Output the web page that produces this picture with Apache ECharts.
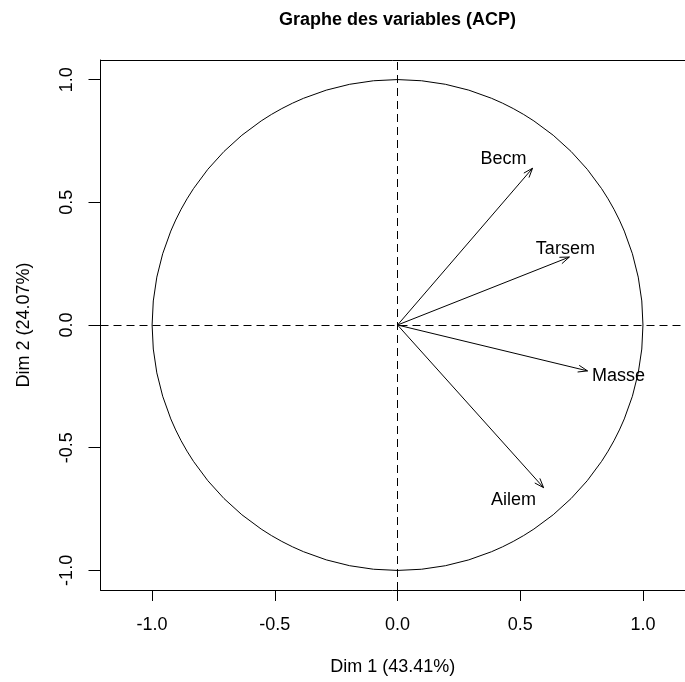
<!DOCTYPE html>
<html>
<head>
<meta charset="utf-8">
<script src="https://cdn.jsdelivr.net/npm/echarts@6/dist/echarts.min.js"></script>
<style>
html,body{margin:0;padding:0;background:#fff;}
#chart{width:685px;height:682px;}
</style>
</head>
<body>
<div id="chart"></div>
<script>
// ---- data ----
const variables = ['Becm', 'Tarsem', 'Masse', 'Ailem'];
const dim1 = [0.55, 0.70, 0.774, 0.595];
const dim2 = [0.639, 0.277, -0.187, -0.663];
const tickValues = [-1, -0.5, 0, 0.5, 1];
const xTitle = 'Dim 1 (43.41%)';
const yTitle = 'Dim 2 (24.07%)';
const chartTitle = 'Graphe des variables (ACP)';

// ---- layout (pixel offsets of variable labels from arrow tips) ----
const labelOffsets = [[-29, -9], [-4, -8], [31, 5], [-30, 12]];

const FONT = '"Liberation Sans", Arial, sans-serif';
const chart = echarts.init(document.getElementById('chart'));

const arrowData = variables.map((v, i) => [dim1[i], dim2[i]]);
const X_MIN = -1.21, X_MAX = 1.171;

chart.setOption({
  animation: false,
  backgroundColor: '#fff',
  graphic: [{
    type: 'text',
    x: 397.5, y: 20,
    style: {
      text: chartTitle, fill: '#000', fontFamily: FONT, fontSize: 18, fontWeight: 'bold',
      align: 'center', verticalAlign: 'middle'
    }
  }],
  grid: {
    left: 100.5, top: 60, bottom: 92, right: 0,
    show: false
  },
  xAxis: [{
    type: 'value', min: X_MIN, max: X_MAX,
    name: xTitle, nameLocation: 'middle', nameGap: 68,
    nameTextStyle: { color: '#000', fontFamily: FONT, fontSize: 18 },
    axisLine: { show: true, onZero: false, lineStyle: { color: '#000', width: 1 } },
    axisTick: { show: true, length: 11, customValues: tickValues, lineStyle: { color: '#000', width: 1 } },
    axisLabel: {
      customValues: tickValues, margin: 26, color: '#000', fontFamily: FONT, fontSize: 18,
      formatter: v => v.toFixed(1)
    },
    splitLine: { show: false }
  }, {
    type: 'value', min: X_MIN, max: X_MAX, position: 'top',
    axisLine: { show: true, onZero: false, lineStyle: { color: '#000', width: 1 } },
    axisTick: { show: false }, axisLabel: { show: false }, splitLine: { show: false }
  }],
  yAxis: {
    type: 'value', min: -1.08, max: 1.08,
    name: yTitle, nameLocation: 'middle', nameGap: 67,
    nameTextStyle: { color: '#000', fontFamily: FONT, fontSize: 18 },
    axisLine: { show: true, onZero: false, lineStyle: { color: '#000', width: 1 } },
    axisTick: { show: true, length: 12, customValues: tickValues, lineStyle: { color: '#000', width: 1 } },
    axisLabel: {
      customValues: tickValues, margin: 24, rotate: 90, color: '#000', fontFamily: FONT, fontSize: 18,
      formatter: v => v.toFixed(1)
    },
    splitLine: { show: false }
  },
  series: [
    {
      type: 'custom',
      name: 'circle',
      silent: true,
      data: [[0, 0]],
      renderItem: function (params, api) {
        const c = api.coord([0, 0]);
        const s = api.size([1, 1]);
        return {
          type: 'circle',
          shape: { cx: c[0], cy: c[1], r: (s[0] + s[1]) / 2 },
          style: { stroke: '#000', fill: null, lineWidth: 1 }
        };
      },
      markLine: {
        silent: true,
        symbol: ['none', 'none'],
        label: { show: false },
        lineStyle: { color: '#000', width: 1, type: [8, 5] },
        data: [{ xAxis: 0 }, { yAxis: 0 }]
      }
    },
    {
      type: 'custom',
      name: 'variables',
      silent: true,
      data: arrowData,
      renderItem: function (params, api) {
        const o = api.coord([0, 0]);
        const p = api.coord([api.value(0), api.value(1)]);
        const ang = Math.atan2(p[1] - o[1], p[0] - o[0]);
        const L = 10, a = Math.PI / 9;
        const h1 = [p[0] - L * Math.cos(ang - a), p[1] - L * Math.sin(ang - a)];
        const h2 = [p[0] - L * Math.cos(ang + a), p[1] - L * Math.sin(ang + a)];
        const off = labelOffsets[params.dataIndex];
        return {
          type: 'group',
          children: [
            { type: 'line', shape: { x1: o[0], y1: o[1], x2: p[0], y2: p[1] }, style: { stroke: '#000', lineWidth: 1 } },
            { type: 'polyline', shape: { points: [h1, p, h2] }, style: { stroke: '#000', fill: null, lineWidth: 1 } },
            {
              type: 'text', x: p[0] + off[0], y: p[1] + off[1],
              style: {
                text: variables[params.dataIndex], fill: '#000', fontFamily: FONT, fontSize: 18,
                align: 'center', verticalAlign: 'middle'
              }
            }
          ]
        };
      }
    }
  ]
});
</script>
</body>
</html>
